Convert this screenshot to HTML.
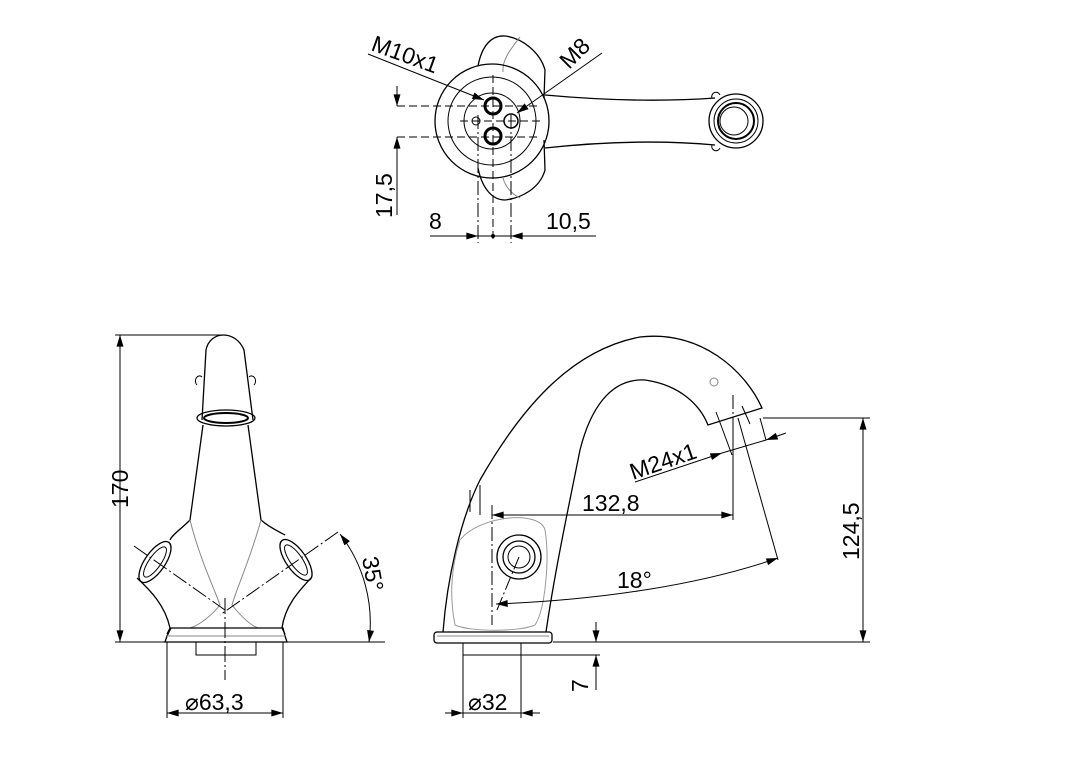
<!DOCTYPE html>
<html><head><meta charset="utf-8"><style>
html,body{margin:0;padding:0;background:#fff;}
svg{display:block;}
text{font-family:"Liberation Sans",Arial,sans-serif;fill:#000;}
</style></head><body>
<svg width="1080" height="763" viewBox="0 0 1080 763" xmlns="http://www.w3.org/2000/svg">
<defs>
<marker id="a" viewBox="0 0 10 6" refX="10" refY="3" markerWidth="20" markerHeight="7" markerUnits="userSpaceOnUse" orient="auto-start-reverse"><path d="M0,0 L10,3 L0,6z" fill="#000"/></marker>
</defs>
<g fill="none" stroke="#000" stroke-width="1">
<!-- TOP VIEW -->
<path d="M478,66 C482,45 492,35 505,36 C522,38 540,52 545,70 L544,98" stroke-width="1.3"/>
<path d="M478,168 C482,188 492,200 505,200 C522,198 540,188 545,170 L544,140" stroke-width="1.3"/>
<path d="M520,37 C510,50 502,60 503,72" stroke="#888"/>
<path d="M503,178 C505,185 510,193 520,198" stroke="#888"/>
<circle cx="492" cy="121" r="57" stroke-width="1.3"/>
<circle cx="492" cy="121" r="44"/>
<circle cx="492" cy="121" r="28"/>
<circle cx="493" cy="106" r="8" stroke-width="3"/>
<circle cx="493" cy="136" r="8" stroke-width="3"/>
<circle cx="511" cy="121" r="7" stroke-width="1.5"/>
<circle cx="476" cy="121" r="4"/>
<path d="M545,95 C600,100 660,102 715,98" stroke-width="1.3"/>
<path d="M545,148 C600,142 660,140 715,145" stroke-width="1.3"/>
<circle cx="736" cy="121" r="27" stroke-width="1.3"/>
<circle cx="736" cy="121" r="22"/>
<circle cx="736" cy="121" r="18" stroke-width="2"/>
<circle cx="734" cy="121" r="14"/>
<path d="M712,98 a4,4 0 0 1 8,-3"/><path d="M712,145 a4,4 0 0 0 8,3"/>
<g stroke-dasharray="8,4">
<line x1="397" y1="106" x2="540" y2="106"/>
<line x1="397" y1="137" x2="540" y2="137"/>
<line x1="460" y1="121" x2="540" y2="121"/>
<line x1="493" y1="75" x2="493" y2="243"/>
</g>
<g stroke-dasharray="14,3,2,3">
<line x1="478" y1="115" x2="478" y2="243"/>
<line x1="511" y1="115" x2="511" y2="243"/>
</g>
<line x1="397" y1="86" x2="397" y2="106" marker-end="url(#a)"/>
<line x1="397" y1="215" x2="397" y2="137" marker-end="url(#a)"/>
<line x1="430" y1="236" x2="478" y2="236" marker-end="url(#a)"/>
<line x1="596" y1="236" x2="511" y2="236" marker-end="url(#a)"/>
<line x1="478" y1="236" x2="511" y2="236"/>
<line x1="368" y1="54" x2="484" y2="100" marker-end="url(#a)"/>
<line x1="602" y1="53" x2="517" y2="113" marker-end="url(#a)"/>

<!-- FRONT VIEW -->
<line x1="115" y1="335" x2="225" y2="335"/>
<line x1="115" y1="642" x2="385" y2="642"/>
<line x1="120" y1="335" x2="120" y2="642" marker-start="url(#a)" marker-end="url(#a)"/>
<path d="M202,420 L206,350 C210,330 236,330 244,350 L253,420" stroke-width="1.3"/>
<ellipse cx="226" cy="418" rx="29" ry="8" stroke-width="1.3"/>
<ellipse cx="226" cy="418" rx="22" ry="5" stroke-width="2"/>
<path d="M197,385 a4,5 0 0 1 5,-8"/><path d="M254,385 a4,5 0 0 0 -5,-8"/>
<path d="M203,425 L190,520 C180,530 172,535 170,540" stroke-width="1.3"/>
<path d="M248,425 L261,520 C270,528 280,532 285,535" stroke-width="1.3"/>
<path d="M137,578 C150,590 165,605 170,628 L167,634" stroke-width="1.3"/>
<path d="M311,578 C300,590 285,605 282,628 L285,634" stroke-width="1.3"/>
<ellipse cx="155" cy="562" rx="10" ry="24" transform="rotate(35 155 562)" stroke-width="1.3"/>
<ellipse cx="155" cy="562" rx="6" ry="18" transform="rotate(35 155 562)"/>
<ellipse cx="296" cy="560" rx="10" ry="24" transform="rotate(-35 296 560)" stroke-width="1.3"/>
<ellipse cx="296" cy="560" rx="6" ry="18" transform="rotate(-35 296 560)"/>
<g stroke="#888">
<path d="M190,520 C200,560 215,590 220,605 C212,615 200,625 190,628"/>
<path d="M261,520 C250,560 236,590 232,605 C240,615 250,625 258,628"/>
</g>
<path d="M171,628 L283,628 L285,636 L287,642 L165,642 L167,636z" stroke-width="1.3"/>
<line x1="167" y1="636" x2="285" y2="636" stroke="#888"/>
<rect x="196" y="642" width="60" height="13"/>
<g stroke-dasharray="16,3,2,3">
<line x1="134" y1="546" x2="225" y2="610"/>
<line x1="338" y1="532" x2="220" y2="615"/>
<line x1="225" y1="598" x2="225" y2="680"/>
</g>
<line x1="167" y1="642" x2="167" y2="718"/>
<line x1="283" y1="642" x2="283" y2="718"/>
<line x1="167" y1="713" x2="283" y2="713" marker-start="url(#a)" marker-end="url(#a)"/>
<path d="M340,534 A145,145 0 0 1 369,642" marker-start="url(#a)" marker-end="url(#a)"/>

<!-- SIDE VIEW -->
<path d="M443,632 C447,580 460,520 480,480 C520,410 570,350 640,337 C700,330 745,370 762,408 L708,425 C700,405 680,385 645,380 C610,378 590,410 580,450 C570,500 555,570 546,632" stroke-width="1.3"/>
<path d="M470,490 L470,512 M480,485 L480,515"/>
<rect x="434" y="632" width="118" height="11" rx="3" stroke-width="1.3"/>
<line x1="437" y1="636" x2="549" y2="636" stroke="#888"/>
<rect x="463" y="643" width="58" height="12"/>
<circle cx="519" cy="557" r="22" stroke-width="1.3"/>
<circle cx="519" cy="557" r="16" stroke-width="1.3"/>
<circle cx="519" cy="557" r="11"/>
<path d="M460,540 C480,515 540,510 545,530 C550,560 545,610 535,625 C520,632 470,632 455,625 C450,600 450,570 460,540" stroke="#999"/>
<circle cx="714" cy="382" r="4" stroke="#888"/>
<line x1="716" y1="412" x2="722" y2="428"/>
<line x1="742" y1="406" x2="750" y2="424"/>
<line x1="722" y1="428" x2="732" y2="455"/>
<line x1="760" y1="418" x2="766" y2="440"/>
<g stroke-dasharray="14,3,2,3">
<line x1="492" y1="505" x2="492" y2="625"/>
<line x1="497" y1="610" x2="519" y2="557"/>
<line x1="733" y1="395" x2="733" y2="418"/>
</g>
<line x1="733" y1="418" x2="733" y2="520"/>
<line x1="738" y1="418" x2="778" y2="560"/>
<line x1="492" y1="515" x2="733" y2="515" marker-start="url(#a)" marker-end="url(#a)"/>
<path d="M496,604 C600,600 700,585 778,558" marker-start="url(#a)" marker-end="url(#a)"/>
<line x1="635" y1="482" x2="722" y2="453" marker-end="url(#a)"/>
<line x1="722" y1="453" x2="766" y2="440"/>
<line x1="786" y1="433" x2="766" y2="440" marker-end="url(#a)"/>
<line x1="763" y1="418" x2="870" y2="418"/>
<line x1="553" y1="642" x2="870" y2="642"/>
<line x1="863" y1="418" x2="863" y2="642" marker-start="url(#a)" marker-end="url(#a)"/>
<line x1="521" y1="655" x2="600" y2="655"/>
<line x1="596" y1="622" x2="596" y2="642" marker-end="url(#a)"/>
<line x1="596" y1="690" x2="596" y2="655" marker-end="url(#a)"/>
<line x1="463" y1="655" x2="463" y2="718"/>
<line x1="521" y1="655" x2="521" y2="718"/>
<line x1="445" y1="713" x2="463" y2="713" marker-end="url(#a)"/>
<line x1="540" y1="713" x2="521" y2="713" marker-end="url(#a)"/>
<line x1="463" y1="713" x2="521" y2="713"/>
</g>
<circle cx="493" cy="236" r="2" fill="#000"/>

<g font-size="23">
<text x="0" y="0" transform="translate(370,50) rotate(20)">M10x1</text>
<text x="0" y="0" transform="translate(569,70) rotate(-45)">M8</text>
<text x="0" y="0" transform="translate(392,218) rotate(-90)">17,5</text>
<text x="429" y="229">8</text>
<text x="546" y="229">10,5</text>
<text x="0" y="0" transform="translate(128,508) rotate(-90)">170</text>
<text x="0" y="0" transform="translate(362,558) rotate(80)">35°</text>
<text x="185" y="710">⌀63,3</text>
<text x="0" y="0" transform="translate(633,480) rotate(-19)">M24x1</text>
<text x="582" y="511">132,8</text>
<text x="617" y="588">18°</text>
<text x="0" y="0" transform="translate(859,560) rotate(-90)">124,5</text>
<text x="0" y="0" transform="translate(588,692) rotate(-90)">7</text>
<text x="468" y="710">⌀32</text>
</g>
</svg>
</body></html>
